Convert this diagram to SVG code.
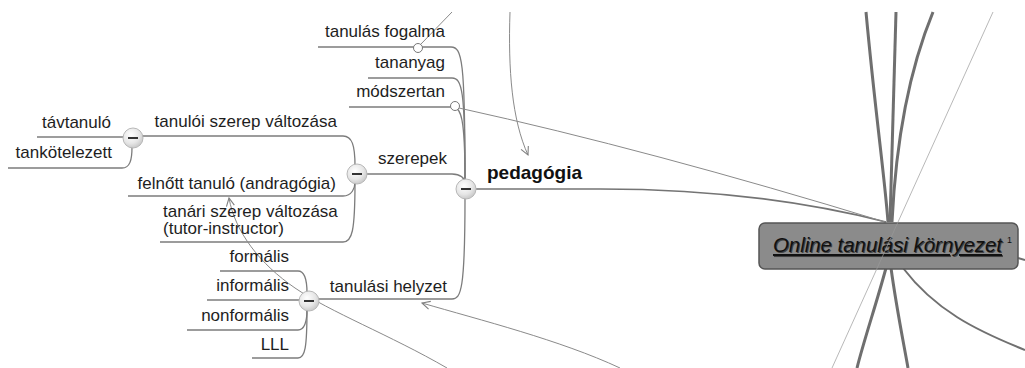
<svg xmlns="http://www.w3.org/2000/svg" width="1025" height="368" viewBox="0 0 1025 368">
  <defs>
    <radialGradient id="knob" cx="0.4" cy="0.35" r="0.7">
      <stop offset="0" stop-color="#ffffff"/>
      <stop offset="0.6" stop-color="#e6e6e6"/>
      <stop offset="1" stop-color="#c4c4c4"/>
    </radialGradient>
    <marker id="open-arrow" viewBox="0 0 10 10" refX="9" refY="5" markerWidth="10" markerHeight="10" markerUnits="userSpaceOnUse" orient="auto">
      <path d="M1,1 L9,5 L1,9" fill="none" stroke="#808080" stroke-width="1.1"/>
    </marker>
  </defs>
  <style>
    .lbl { font-family: "Liberation Sans", Arial, sans-serif; font-size: 17px; fill: #1e1e1e; }
    .end { text-anchor: end; }
    .branch { fill: none; stroke: #7c7c7c; stroke-width: 1.3; }
    .rel { fill: none; stroke: #8a8a8a; stroke-width: 1; }
    .spoke { fill: none; stroke: #6f6f6f; stroke-width: 3; }
    .knob circle { fill: url(#knob); stroke: #b8b8b8; stroke-width: 1; }
    .knob line { stroke: #333; stroke-width: 2; }
    .anchor { fill: #fff; stroke: #777; stroke-width: 1; }
    .title { font-family: "Liberation Sans", Arial, sans-serif; font-style: italic; text-decoration: underline; }
  </style>

  <rect width="1025" height="368" fill="#ffffff"/>

  <!-- connectors -->
  <g id="connectors">
    <!-- spokes of the central topic -->
    <path class="spoke" d="M866,12 C875,110 885,180 888,222"/>
    <path class="spoke" d="M896,12 C893,100 891,170 890,222"/>
    <path class="spoke" d="M933,12 C905,80 895,160 892,222"/>
    <path class="spoke" d="M886,268 C876,305 864,340 857,368"/>
    <path class="spoke" d="M891,268 C896,305 903,340 908,368"/>
    <path class="branch" style="stroke-width:2;stroke:#707070" d="M903,268 C935,310 975,330 1025,350"/>
    <path class="branch" style="stroke-width:2;stroke:#707070" d="M1018,258 L1025,260"/>
    <path class="branch" style="stroke-width:1.7;stroke:#747474" d="M476,189 H600 C700,189 800,200 886,222"/>

    <!-- pedagógia branches -->
    <path class="branch" d="M318,47 H451 C462,47 465,60 465,180"/>
    <path class="branch" d="M368,78 H452 C462,78 465,90 465,180"/>
    <path class="branch" d="M349,107 H453 C461,107 465,118 465,180"/>
    <path class="branch" d="M357,174 H452 C460,174 465,178 466,185"/>
    <path class="branch" d="M310,299 H452 C461,299 465,290 465,198"/>

    <!-- szerepek branches -->
    <path class="branch" d="M133,136 H343 C352,136 355,145 355,166"/>
    <path class="branch" d="M128,196 H343 C352,196 355,188 355,182"/>
    <path class="branch" d="M160,242 H343 C352,242 355,232 355,182"/>

    <!-- tanulói szerep változása branches -->
    <path class="branch" d="M37,137 H126"/>
    <path class="branch" d="M8,168 H122 C130,168 132,160 132,147"/>

    <!-- tanulási helyzet branches -->
    <path class="branch" d="M220,271 H298 C305,271 307,280 307,293"/>
    <path class="branch" d="M207,300 H302"/>
    <path class="branch" d="M187,330 H298 C305,330 307,320 307,309"/>
    <path class="branch" d="M252,358 H298 C305,358 307,348 307,309"/>

    <!-- relationships -->
    <path class="rel" d="M421,44 L452,12"/>
    <path class="rel" d="M459,108 Q650,150 885,222"/>
    <path class="rel" marker-end="url(#open-arrow)" d="M510,12 C508,70 512,120 528,155"/>
    <path class="rel" marker-end="url(#open-arrow)" d="M620,368 C560,340 480,320 422,303"/>
    <path class="rel" marker-end="url(#open-arrow)" d="M447,368 C390,335 330,312 295,288 S235,232 229,198"/>
    <circle class="anchor" cx="418" cy="48" r="4.5"/>
    <circle class="anchor" cx="455" cy="106" r="4.5"/>
  </g>

  <!-- central topic -->
  <g id="online-tanulasi-kornyezet">
    <rect x="759" y="223" width="259" height="46" rx="6" fill="#8b8b8b" stroke="#555" stroke-width="1.5"/>
    <text class="title" x="774" y="253" font-size="20.4" fill="#444">Online tanulási környezet</text>
    <text class="title" x="773" y="252" font-size="20.4" fill="#111">Online tanulási környezet</text>
    <text x="1007" y="243" font-family="'Liberation Sans', Arial, sans-serif" font-size="9" fill="#111">1</text>
    <path d="M993,12 L832,368" fill="none" stroke="#9a9a9a" stroke-width="1" opacity="0.7"/>
  </g>

  <g id="pedagogia">
    <text x="487" y="179" font-family="'Liberation Sans', Arial, sans-serif" font-size="19" font-weight="bold" fill="#111">pedagógia</text>
    <g class="knob"><circle cx="466" cy="189" r="10"/><line x1="461" y1="189" x2="471" y2="189"/></g>
  </g>

  <g id="tanulas-fogalma"><text class="lbl end" x="445" y="37">tanulás fogalma</text></g>
  <g id="tananyag"><text class="lbl end" x="445" y="68">tananyag</text></g>
  <g id="modszertan"><text class="lbl end" x="445" y="97">módszertan</text></g>

  <g id="szerepek">
    <text class="lbl end" x="447" y="164">szerepek</text>
    <g class="knob"><circle cx="357" cy="174" r="10"/><line x1="352" y1="174" x2="362" y2="174"/></g>
  </g>

  <g id="tanuloi-szerep">
    <text class="lbl end" x="337" y="127">tanulói szerep változása</text>
    <g class="knob"><circle cx="133" cy="138" r="10"/><line x1="128" y1="138" x2="138" y2="138"/></g>
  </g>
  <g id="tavtanulo"><text class="lbl end" x="111" y="128">távtanuló</text></g>
  <g id="tankotelezett"><text class="lbl end" x="112" y="158">tankötelezett</text></g>

  <g id="felnott-tanulo"><text class="lbl end" x="336" y="189">felnőtt tanuló (andragógia)</text></g>
  <g id="tanari-szerep">
    <text class="lbl" x="163" y="217">tanári szerep változása</text>
    <text class="lbl" x="163" y="234">(tutor-instructor)</text>
  </g>

  <g id="tanulasi-helyzet">
    <text class="lbl end" x="447" y="292">tanulási helyzet</text>
    <g class="knob"><circle cx="309" cy="301" r="10"/><line x1="304" y1="301" x2="314" y2="301"/></g>
  </g>
  <g id="formalis"><text class="lbl end" x="289" y="262">formális</text></g>
  <g id="informalis"><text class="lbl end" x="289" y="291">informális</text></g>
  <g id="nonformalis"><text class="lbl end" x="289" y="321">nonformális</text></g>
  <g id="lll"><text class="lbl end" x="289" y="350">LLL</text></g>
</svg>
